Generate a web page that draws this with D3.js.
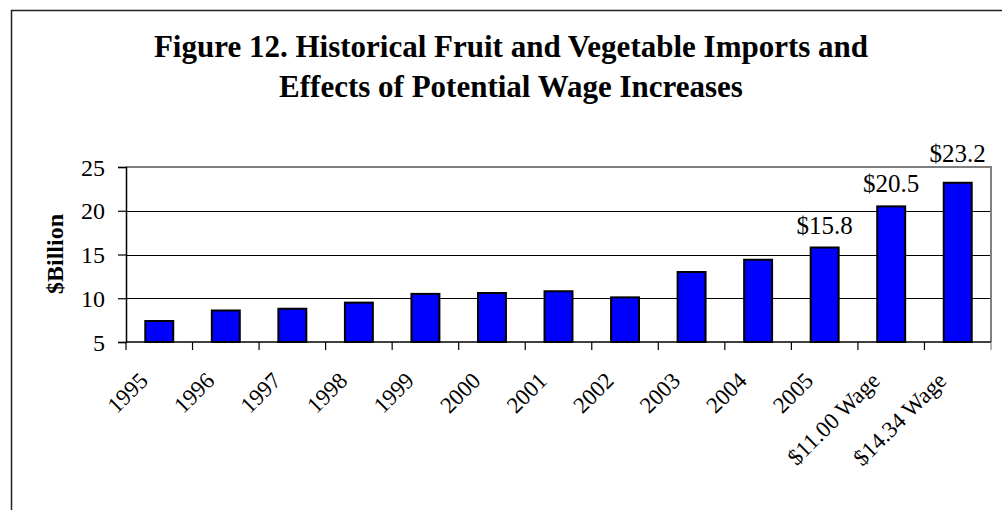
<!DOCTYPE html>
<html>
<head>
<meta charset="utf-8">
<script src="https://cdn.jsdelivr.net/npm/d3@7"></script>
<style>
  body { margin: 0; background: #fff; }
  text { font-family: "Liberation Serif", "Times New Roman", serif; }
</style>
</head>
<body>
<script>
// chart data
var categories = ['1995', '1996', '1997', '1998', '1999', '2000', '2001', '2002',
                  '2003', '2004', '2005', '$11.00 Wage', '$14.34 Wage'];
var imports = [7.4, 8.6, 8.8, 9.5, 10.5, 10.6, 10.8, 10.1, 13.0, 14.4, 15.8, 20.5, 23.2];
var labelled = ['2005', '$11.00 Wage', '$14.34 Wage'];
var yTicks = [5, 10, 15, 20, 25];
var titleLines = ['Figure 12. Historical Fruit and Vegetable Imports and',
                  'Effects of Potential Wage Increases'];

var svg = d3.select('body')
            .append('svg')
            .attr('width', 1002)
            .attr('height', 510);

// outer frame (runs off the right and bottom edge)
svg.append('rect')
   .attr('x', 11.5).attr('y', 10.5)
   .attr('width', 1010).attr('height', 520)
   .attr('fill', 'white')
   .attr('stroke', '#222')
   .attr('stroke-width', 1.5);

// title
svg.append('g')
   .selectAll('text')
   .data(titleLines)
   .enter()
   .append('text')
   .attr('x', 511)
   .attr('y', (d, i) => 57 + i * 40)
   .attr('text-anchor', 'middle')
   .style('font-size', '31px')
   .style('font-weight', 'bold')
   .text(d => d);

var x = d3.scaleBand()
          .domain(categories)
          .range([126, 991])
          .paddingInner(0.58)
          .paddingOuter(0.29);

var y = d3.scaleLinear()
          .domain([5, 25])
          .range([342, 167]);

// gridlines
svg.append('g')
   .selectAll('line')
   .data(yTicks.slice(1, -1))
   .enter()
   .append('line')
   .attr('x1', 126).attr('x2', 991)
   .attr('y1', d => Math.round(y(d)) + 0.5)
   .attr('y2', d => Math.round(y(d)) + 0.5)
   .attr('stroke', '#000')
   .attr('stroke-width', 1);

// plot area border top / right (grey)
svg.append('path')
   .attr('d', 'M126,' + y(25) + 'H991V' + y(5))
   .attr('fill', 'none')
   .attr('stroke', '#808080')
   .attr('stroke-width', 2);

// bars
svg.append('g')
   .selectAll('rect')
   .data(imports)
   .enter()
   .append('rect')
   .attr('x', (d, i) => x(categories[i]))
   .attr('y', d => y(d))
   .attr('width', x.bandwidth())
   .attr('height', d => y(5) - y(d))
   .attr('fill', '#0000ff')
   .attr('stroke', '#000')
   .attr('stroke-width', 2);

// y axis
var yAxis = svg.append('g')
   .attr('transform', 'translate(126,0)')
   .call(d3.axisLeft(y).tickValues(yTicks).tickSize(8).tickPadding(13));
yAxis.select('.domain').attr('stroke', '#000').attr('stroke-width', 1.5);
yAxis.selectAll('line').attr('stroke', '#000').attr('stroke-width', 1.2);
yAxis.selectAll('text')
     .style('font-size', '24px')
     .style('font-family', '"Liberation Serif", serif')
     .attr('fill', '#000')
     .attr('dy', '0.34em');

// x axis line and ticks at category boundaries
svg.append('line')
   .attr('x1', 126).attr('x2', 991)
   .attr('y1', y(5)).attr('y2', y(5))
   .attr('stroke', '#000').attr('stroke-width', 1.5);

var bounds = d3.range(categories.length + 1).map(i => x.range()[0] + i * x.step());
svg.append('g')
   .selectAll('line')
   .data(bounds)
   .enter()
   .append('line')
   .attr('x1', d => d).attr('x2', d => d)
   .attr('y1', y(5)).attr('y2', y(5) + 8)
   .attr('stroke', (d, i) => i == categories.length ? '#808080' : '#000')
   .attr('stroke-width', 1.2);

// x labels, rotated
svg.append('g')
   .selectAll('text')
   .data(categories)
   .enter()
   .append('text')
   .attr('transform', d => 'translate(' + (x(d) + x.bandwidth() / 2 - 10) + ',382) rotate(-45)')
   .attr('text-anchor', 'end')
   .style('font-size', '23px')
   .text(d => d);

// value labels
svg.append('g')
   .selectAll('text')
   .data(labelled)
   .enter()
   .append('text')
   .attr('x', d => x(d) + x.bandwidth() / 2)
   .attr('y', (d, i) => y(imports[categories.indexOf(d)]) - (i == labelled.length - 1 ? 21 : 14))
   .attr('text-anchor', 'middle')
   .style('font-size', '25px')
   .text(d => '$' + imports[categories.indexOf(d)].toFixed(1));

// y axis title
svg.append('text')
   .attr('transform', 'translate(63,254) rotate(-90)')
   .attr('text-anchor', 'middle')
   .style('font-size', '24px')
   .style('font-weight', 'bold')
   .text('$Billion');
</script>
</body>
</html>
